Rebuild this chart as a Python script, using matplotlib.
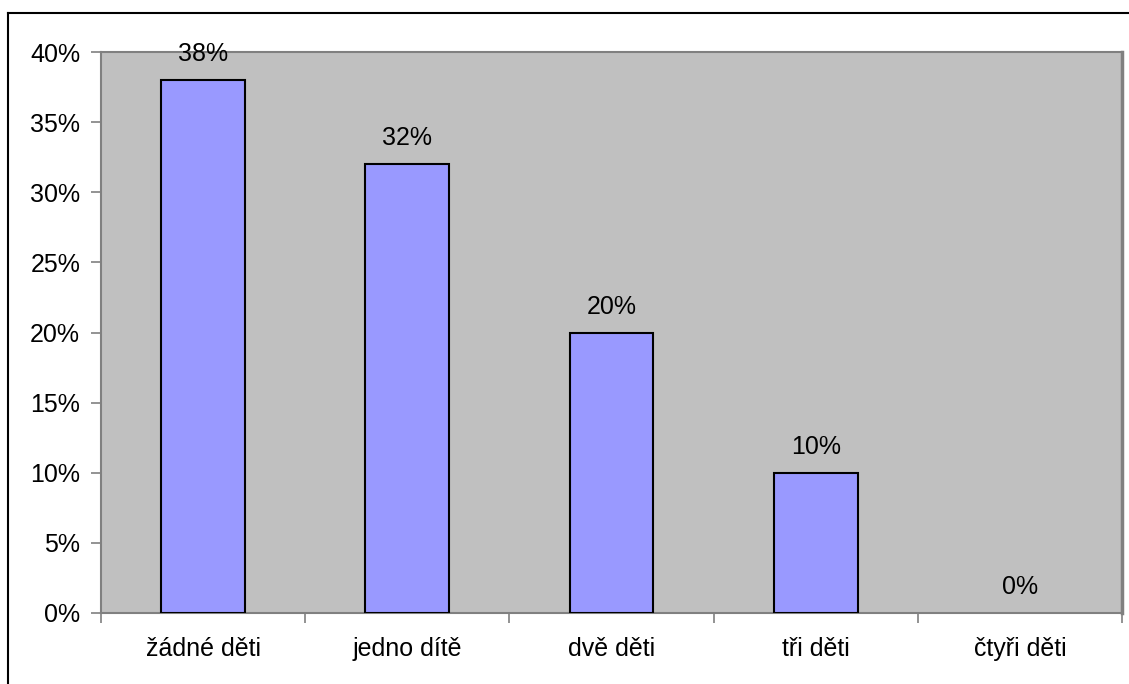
import matplotlib
matplotlib.use("Agg")
import matplotlib.pyplot as plt
from matplotlib.ticker import MultipleLocator, FuncFormatter, FixedLocator

categories = ["žádné děti", "jedno dítě", "dvě děti", "tři děti", "čtyři děti"]
shares = [0.38, 0.32, 0.20, 0.10, 0.0]
value_labels = ["38%", "32%", "20%", "10%", "0%"]

plt.rcParams["font.family"] = ["Liberation Sans", "DejaVu Sans"]

W, H = 1129, 684
FS = 18
fig = plt.figure(figsize=(W / 100, H / 100), dpi=100)
fig.patch.set_facecolor("white")

# outer chart frame (left and top edges inside the canvas)
fig.add_artist(plt.Line2D([8 / W, 8 / W], [0, 1 - 13 / H], color="black", lw=1.5,
                          transform=fig.transFigure))
fig.add_artist(plt.Line2D([8 / W, 1], [1 - 13 / H, 1 - 13 / H], color="black", lw=1.5,
                          transform=fig.transFigure))

left, right, top, bottom = 101, 1122, 52, 613
ax = fig.add_axes([left / W, 1 - bottom / H, (right - left) / W, (bottom - top) / H])
ax.set_facecolor("#C0C0C0")

x = list(range(len(categories)))
bars = ax.bar(x, shares, width=0.41, color="#9999FF", edgecolor="black", linewidth=1.5, zorder=3)
for b, v in zip(bars, shares):
    if v == 0:
        b.set_linewidth(0)

for xi, v, lab in zip(x, shares, value_labels):
    ax.annotate(lab, (xi, v), xytext=(0, 10), textcoords="offset points",
                ha="center", va="bottom", fontsize=FS, color="black", zorder=4)

ax.set_xlim(-0.5, len(categories) - 0.5)
ax.set_ylim(0, 0.40)
ax.yaxis.set_major_locator(MultipleLocator(0.05))
ax.yaxis.set_major_formatter(FuncFormatter(lambda v, p: f"{v * 100:.0f}%"))

ax.set_xticks(x)
ax.set_xticklabels(categories, fontsize=FS)
ax.tick_params(axis="x", which="major", length=0, pad=17)
ax.xaxis.set_minor_locator(FixedLocator([i - 0.5 for i in range(len(categories) + 1)]))
ax.tick_params(axis="x", which="minor", length=7, width=1.2, color="#808080", direction="out")
ax.tick_params(axis="y", length=7, width=1.2, color="#808080", labelsize=FS, pad=8)

for s in ax.spines.values():
    s.set_color("#808080")
    s.set_linewidth(1.5)
ax.spines["right"].set_linewidth(2.5)

fig.savefig("out.png", dpi=100, facecolor="white")
